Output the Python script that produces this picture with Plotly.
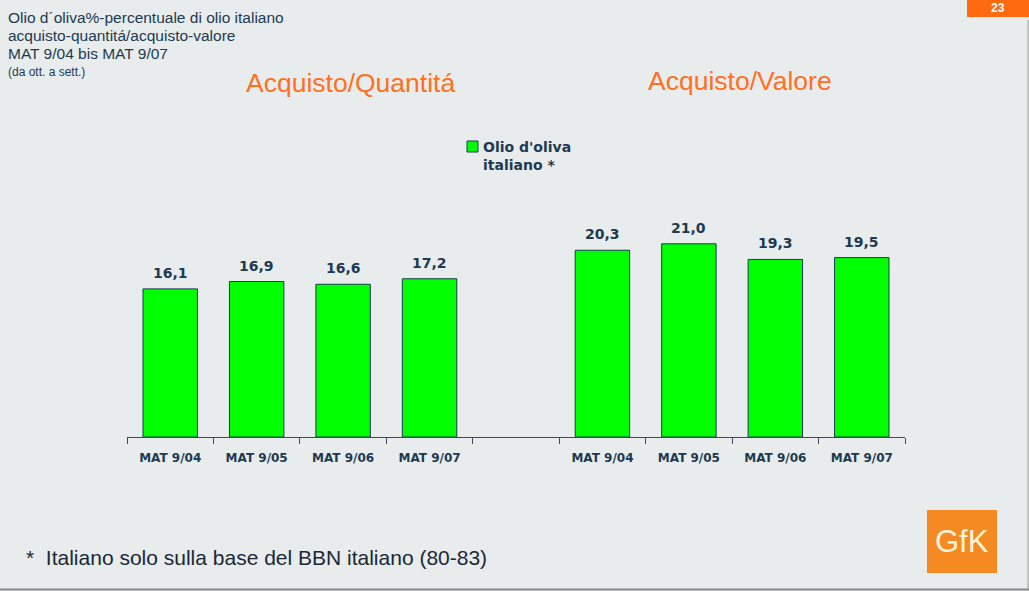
import plotly.graph_objects as go

# ---- data ----
periods = ["MAT 9/04", "MAT 9/05", "MAT 9/06", "MAT 9/07"]
quantita = [16.1, 16.9, 16.6, 17.2]
valore = [20.3, 21.0, 19.3, 19.5]
series_name = "Olio d'oliva<br>italiano *"

# ---- layout geometry (pixels) ----
W, H = 1029, 591
ML, MR, MT, MB = 127, 124, 161, 154
PW, PH = W - ML - MR, H - MT - MB
YMAX = 30

def px(x):
    return (x - ML) / PW

def py(y):
    return (H - MB - y) / PH

keys = [f"Q|{p}" for p in periods] + ["gap"] + [f"V|{p}" for p in periods]
labels = periods + [""] + periods
vals = quantita + [None] + valore

BG = "#E9ECEC"
NAVY = "#1C3A52"
ORANGE = "#FF7020"
GREEN = "#00FF00"

fig = go.Figure()
fig.add_trace(go.Bar(
    x=keys, y=vals, name=series_name,
    marker=dict(color=GREEN, line=dict(color=NAVY, width=1)),
    showlegend=False,
))

fig.update_layout(
    width=W, height=H,
    margin=dict(l=ML, r=MR, t=MT, b=MB),
    paper_bgcolor=BG, plot_bgcolor=BG,
    bargap=0.37,
    xaxis=dict(type="category", categoryorder="array", categoryarray=keys,
               tickmode="array", tickvals=keys, ticktext=labels,
               tickson="boundaries", ticks="outside", ticklen=6,
               ticklabelstandoff=10,
               tickcolor="#3a4a5a", showline=True, linecolor="#3a4a5a",
               showgrid=False, range=[-0.5, 8.5],
               tickfont=dict(family="DejaVu Sans", size=12, color=NAVY, weight="bold")),
    yaxis=dict(range=[0, YMAX], visible=False, showgrid=False),
)

ann = []
# value labels
for k, v in zip(keys, vals):
    if v is None:
        continue
    ann.append(dict(text=f"{v:.1f}".replace(".", ","), x=k, y=v, xref="x", yref="y",
                    xanchor="center", yanchor="bottom", yshift=6, showarrow=False,
                    font=dict(family="DejaVu Sans", size=14, color=NAVY, weight="bold")))
# top-left headings
head = [("Olio d\u00b4oliva%-percentuale di olio italiano", 7, 15.5),
        ("acquisto-quantit\u00e1/acquisto-valore", 25, 15.5),
        ("MAT 9/04 bis MAT 9/07", 43, 15.5),
        ("(da ott. a sett.)", 63, 12)]
for t, y, s in head:
    ann.append(dict(text=t, x=px(6), y=py(y), xref="paper", yref="paper",
                    xanchor="left", yanchor="top", showarrow=False,
                    font=dict(family="Liberation Sans", size=s, color=NAVY)))
# section titles
ann.append(dict(text="Acquisto/Quantit\u00e1", x=px(350), y=py(83), xref="paper", yref="paper",
                xanchor="center", yanchor="middle", showarrow=False,
                font=dict(family="Liberation Sans", size=26.5, color=ORANGE)))
ann.append(dict(text="Acquisto/Valore", x=px(740), y=py(81), xref="paper", yref="paper",
                xanchor="center", yanchor="middle", showarrow=False,
                font=dict(family="Liberation Sans", size=26.5, color=ORANGE)))
# legend (custom)
ann.append(dict(text="<b>" + series_name + "</b>", x=px(481), y=py(137), xref="paper", yref="paper",
                xanchor="left", yanchor="top", align="left", showarrow=False,
                font=dict(family="DejaVu Sans", size=14, color=NAVY)))
# footnote
ann.append(dict(text="*  Italiano solo sulla base del BBN italiano (80-83)", x=px(24), y=py(557),
                xref="paper", yref="paper", xanchor="left", yanchor="middle", showarrow=False,
                font=dict(family="Liberation Sans", size=21, color="#1a2838")))
# page number
ann.append(dict(text="<b>23</b>", x=px(998), y=py(8), xref="paper", yref="paper",
                xanchor="center", yanchor="middle", showarrow=False,
                font=dict(family="Liberation Sans", size=12, color="white")))
# GfK logo
ann.append(dict(text="GfK", x=px(962), y=py(541), xref="paper", yref="paper",
                xanchor="center", yanchor="middle", showarrow=False,
                font=dict(family="Liberation Sans", size=31, color="#FFF3DC")))
fig.update_layout(annotations=ann)

shapes = [
    dict(type="rect", xref="paper", yref="paper", x0=px(467), x1=px(478), y0=py(141), y1=py(152),
         fillcolor=GREEN, line=dict(color=NAVY, width=1)),
    dict(type="rect", xref="paper", yref="paper", x0=px(967), x1=px(1029), y0=py(0), y1=py(17),
         fillcolor="#FF6A10", line=dict(width=0), layer="below"),
    dict(type="rect", xref="paper", yref="paper", x0=px(927), x1=px(997), y0=py(510), y1=py(573),
         fillcolor="#F58A22", line=dict(width=0), layer="below"),
    dict(type="line", xref="paper", yref="paper", x0=px(0), x1=px(1029), y0=py(589.5), y1=py(589.5),
         line=dict(color="#8a8a8a", width=2)),
    dict(type="line", xref="paper", yref="paper", x0=px(1028), x1=px(1028), y0=py(20), y1=py(591),
         line=dict(color="#9a9a9a", width=1)),
]
fig.update_layout(shapes=shapes)

fig.write_html("out.html", config={"displayModeBar": False},
               post_script="document.body.style.margin='0';document.body.style.overflow='hidden';")
